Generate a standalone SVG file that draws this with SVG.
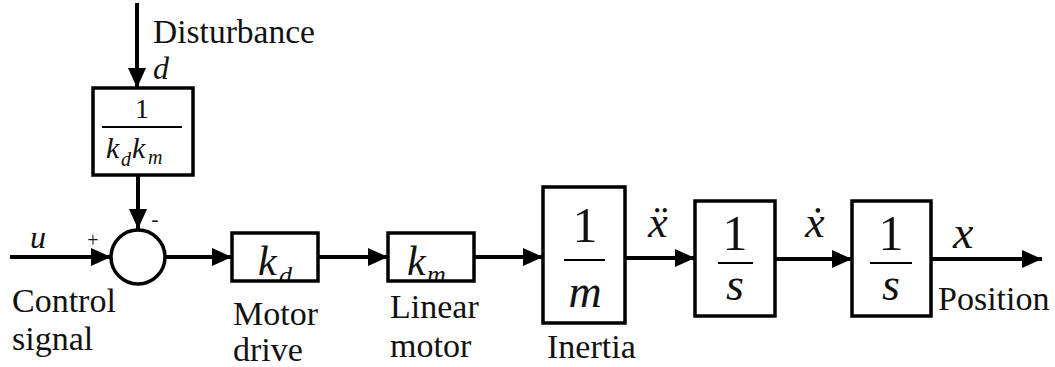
<svg xmlns="http://www.w3.org/2000/svg" width="1055" height="367" viewBox="0 0 1055 367">
<style>
.box{fill:none;stroke:#000;stroke-width:3.5}
.bg{fill:#fff}
.conn{stroke:#000;stroke-width:4;fill:none}
text{font-family:'Liberation Serif','Times New Roman',Tinos,'DejaVu Serif','Noto Serif',serif;fill:#111}
.lbl{font-size:34px}
.m{font-style:italic}
.frac{stroke:#000;stroke-width:2}
</style>
<defs>
<marker id="ah" markerUnits="userSpaceOnUse" markerWidth="20" markerHeight="18" refX="20" refY="9" orient="auto">
<path d="M0,0 L20,9 L0,18 z" fill="#000"/>
</marker>
<clipPath id="cpkd"><rect x="232" y="233" width="86" height="48"/></clipPath>
<clipPath id="cpkm"><rect x="388" y="233" width="86" height="48"/></clipPath>
</defs>
<rect width="1055" height="367" fill="#fff"/>

<g id="connectors">
<line class="conn" x1="137" y1="3" x2="137" y2="88" marker-end="url(#ah)"/>
<line class="conn" x1="138" y1="175" x2="138" y2="229" marker-end="url(#ah)"/>
<line class="conn" x1="10" y1="257" x2="111" y2="257" marker-end="url(#ah)"/>
<line class="conn" x1="165" y1="257" x2="232" y2="257" marker-end="url(#ah)"/>
<line class="conn" x1="318" y1="257" x2="388" y2="257" marker-end="url(#ah)"/>
<line class="conn" x1="474" y1="257" x2="543" y2="257" marker-end="url(#ah)"/>
<line class="conn" x1="625" y1="258" x2="695" y2="258" marker-end="url(#ah)"/>
<line class="conn" x1="775" y1="259" x2="852" y2="259" marker-end="url(#ah)"/>
<line class="conn" x1="931" y1="259" x2="1042" y2="259" marker-end="url(#ah)"/>
</g>

<g id="signal-labels">
<text class="lbl" x="153" y="43" textLength="162" lengthAdjust="spacingAndGlyphs">Disturbance</text>
<text class="m" x="153" y="79" font-size="32">d</text>
<text class="m" x="30" y="248" font-size="32">u</text>
<text x="93" y="247" font-size="20" text-anchor="middle">+</text>
<text x="155" y="226" font-size="22" text-anchor="middle">-</text>
<text class="lbl" x="12" y="312">Control</text>
<text class="lbl" x="12" y="350">signal</text>
<text class="m" x="648" y="237" font-size="44">ẍ</text>
<text class="m" x="805" y="237" font-size="44">ẋ</text>
<text class="m" x="953" y="248" font-size="46">x</text>
<text class="lbl" x="938" y="310">Position</text>
</g>

<g id="gain-disturbance">
<rect class="bg" x="93" y="88" width="100" height="87"/>
<text x="142" y="118" font-size="28" text-anchor="middle">1</text>
<line class="frac" x1="102" y1="127" x2="182" y2="127"/>
<text class="m" x="106" y="158" font-size="30">k</text>
<text class="m" x="121" y="166" font-size="20">d</text>
<text class="m" x="132" y="158" font-size="30">k</text>
<text class="m" x="148" y="164" font-size="20">m</text>
<rect class="box" x="93" y="88" width="100" height="87"/>
</g>

<g id="sum">
<circle cx="138" cy="257" r="27" fill="#fff" stroke="#000" stroke-width="3.5"/>
</g>

<g id="motor-drive">
<rect class="bg" x="232" y="233" width="86" height="48"/>
<g clip-path="url(#cpkd)">
<text class="m" x="258" y="275" font-size="42">k</text>
<text class="m" x="279" y="284" font-size="26">d</text>
</g>
<rect class="box" x="232" y="233" width="86" height="48"/>
<text class="lbl" x="233" y="325">Motor</text>
<text class="lbl" x="233" y="361">drive</text>
</g>

<g id="linear-motor">
<rect class="bg" x="388" y="233" width="86" height="48"/>
<g clip-path="url(#cpkm)">
<text class="m" x="407" y="275" font-size="42">k</text>
<text class="m" x="427" y="283" font-size="26">m</text>
</g>
<rect class="box" x="388" y="233" width="86" height="48"/>
<text class="lbl" x="390" y="318">Linear</text>
<text class="lbl" x="390" y="357">motor</text>
</g>

<g id="inertia">
<rect class="box" x="543" y="187" width="82" height="136" fill="#fff"/>
<text x="585" y="242" font-size="50" text-anchor="middle">1</text>
<line class="frac" x1="564" y1="260" x2="605" y2="260"/>
<text class="m" x="585" y="307" font-size="46" text-anchor="middle">m</text>
<text class="lbl" x="547" y="358">Inertia</text>
</g>

<g id="integrator1">
<rect class="box" x="695" y="201" width="80" height="115" fill="#fff"/>
<text x="735" y="250" font-size="50" text-anchor="middle">1</text>
<line class="frac" x1="718" y1="263" x2="753" y2="263"/>
<text class="m" x="735" y="300" font-size="46" text-anchor="middle">s</text>
</g>

<g id="integrator2">
<rect class="box" x="852" y="201" width="79" height="115" fill="#fff"/>
<text x="891" y="250" font-size="50" text-anchor="middle">1</text>
<line class="frac" x1="870" y1="263" x2="912" y2="263"/>
<text class="m" x="891" y="300" font-size="46" text-anchor="middle">s</text>
</g>
</svg>
